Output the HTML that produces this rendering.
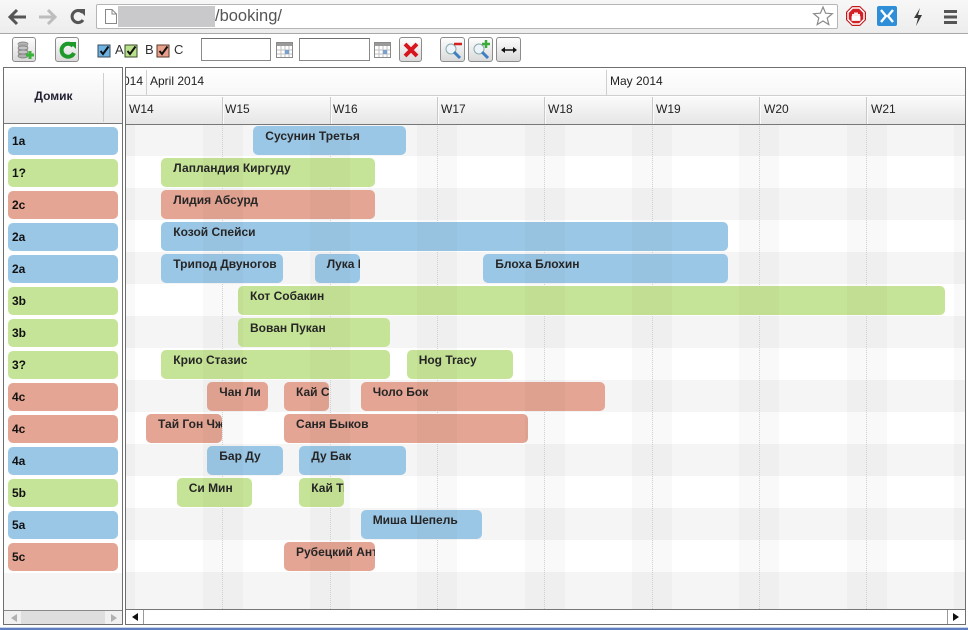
<!DOCTYPE html>
<html><head><meta charset="utf-8">
<style>
*{margin:0;padding:0;box-sizing:border-box}
html,body{width:968px;height:630px;overflow:hidden}
body{background:#fff;font-family:"Liberation Sans",Arial,"Noto Sans CJK SC",sans-serif;position:relative}
.a{position:absolute}
.bar{position:absolute;height:29px;border-radius:5px;overflow:hidden;white-space:nowrap;font-weight:bold;font-size:12px;line-height:14px;padding:3px 0 0 12px;color:#262626}
.b{background:#9bc7e6}.g{background:#c6e497}.r{background:#e4a594}
.pill{position:absolute;left:8px;width:110px;height:28px;border-radius:5px;font-weight:bold;font-size:12px;line-height:28px;padding-left:4px;color:#111}
.wk{position:absolute;top:96px;height:27px;font-size:12px;line-height:27px;color:#222}
.wsep{position:absolute;top:97px;width:1px;height:27px;background:#c9c9c9;box-shadow:1px 0 0 #fbfbfb}
.row{position:absolute;left:0;width:965px;height:32px}
.we{position:absolute;top:124px;height:485px;width:40px;background:rgba(0,0,0,0.024);z-index:5}
.dl{position:absolute;top:124px;height:485px;width:0;border-left:1px dotted #d6d6d6}
.tb{position:absolute;top:37px;width:24px;height:25px;border:1px solid #8c8c8c;border-radius:3px;background:linear-gradient(#fdfdfd,#dadada)}
.tb svg{position:absolute;left:0;top:0}
.inp{position:absolute;top:38px;height:23px;border:1px solid #8a8a8a;border-top-color:#6f6f6f;background:#fff}
.lbl{position:absolute;top:42px;font-size:13px;line-height:16px;color:#333}
</style></head><body>

<!-- Browser chrome -->
<div class="a" style="left:0;top:0;width:968px;height:34px;background:linear-gradient(#f7f7f7,#ededed);border-bottom:1px solid #a8a8a8"></div>
<svg class="a" style="left:6px;top:6px" width="90" height="22" viewBox="0 0 90 22">
  <path d="M5 11 H20" stroke="#555" stroke-width="3"/>
  <path d="M11 4 L4 11 L11 18" stroke="#555" stroke-width="3" fill="none"/>
  <path d="M33 11 H48" stroke="#bdbdbd" stroke-width="3"/>
  <path d="M42 4 L49 11 L42 18" stroke="#bdbdbd" stroke-width="3" fill="none"/>
  <path d="M76.5 6.5 A6 6 0 1 0 77 14" stroke="#555" stroke-width="3" fill="none"/>
  <path d="M72 3 L79 3 L79 10 Z" fill="#555"/>
</svg>
<div class="a" style="left:96px;top:4px;width:742px;height:25px;background:#fff;border:1px solid #b5b5b5;border-radius:2px"></div>
<svg class="a" style="left:104px;top:8px" width="14" height="17"><path d="M1.5 1.5 H8 L12.5 6 V15.5 H1.5 Z" fill="#fff" stroke="#888"/><path d="M8 1.5 V6 H12.5" fill="none" stroke="#888"/></svg>
<div class="a" style="left:118px;top:6px;width:97px;height:21px;background:#c9c9cc"></div>
<div class="a" style="left:215px;top:5px;font-size:16.5px;line-height:22px;color:#555">/booking/</div>
<svg class="a" style="left:812px;top:5px" width="22" height="22"><path d="M11 2 L13.6 8.2 L20.3 8.7 L15.2 13 L16.8 19.6 L11 16 L5.2 19.6 L6.8 13 L1.7 8.7 L8.4 8.2 Z" fill="#fff" stroke="#8a8a8a" stroke-width="1.2"/></svg>
<svg class="a" style="left:845px;top:5px" width="22" height="22"><path d="M7 1 H15 L21 7 V15 L15 21 H7 L1 15 V7 Z" fill="#c41a1f"/><path d="M7.6 3 H14.4 L19 7.6 V14.4 L14.4 19 H7.6 L3 14.4 V7.6 Z" fill="#d32026" stroke="#fff" stroke-width="1.5"/><path d="M8 15 V9 M10 15 V7.5 M12 15 V7.5 M14 15 V9 M7.5 12 H14.5 V15 H7.5Z" stroke="#fff" stroke-width="1.8" fill="#fff"/></svg>
<svg class="a" style="left:877px;top:6px" width="20" height="20"><rect x="0" y="0" width="20" height="20" rx="2" fill="#2e8fd8"/><path d="M4 4 L9 10 L4 16 M16 4 L11 10 L16 16" stroke="#fff" stroke-width="2.4" fill="none"/></svg>
<svg class="a" style="left:912px;top:7px" width="12" height="20"><path d="M8 1 L2 11 H6 L4 19 L10 8 H6 Z" fill="#3a3a3a"/></svg>
<svg class="a" style="left:943px;top:8px" width="16" height="17"><rect x="1" y="2" width="13" height="3" fill="#555"/><rect x="1" y="7.5" width="13" height="3" fill="#555"/><rect x="1" y="13" width="13" height="3" fill="#555"/></svg>

<!-- Toolbar -->
<div class="tb" style="left:12px"><svg width="24" height="25"><ellipse cx="10" cy="6" rx="5" ry="2" fill="#b5b5b5" stroke="#7a7a7a" stroke-width=".7"/><rect x="5" y="6" width="10" height="12" fill="#a9a9a9"/><ellipse cx="10" cy="10" rx="5" ry="2" fill="#c5c5c5" stroke="#7a7a7a" stroke-width=".7"/><ellipse cx="10" cy="14" rx="5" ry="2" fill="#c5c5c5" stroke="#7a7a7a" stroke-width=".7"/><ellipse cx="10" cy="18" rx="5" ry="2" fill="#b0b0b0" stroke="#7a7a7a" stroke-width=".7"/><path d="M17 13 V21 M13 17 H21" stroke="#3bb33b" stroke-width="3"/></svg></div>
<div class="tb" style="left:55px"><svg width="24" height="25"><path d="M17 8 A6.5 6.5 0 1 0 18 15" stroke="#1f9a2a" stroke-width="4" fill="none"/><path d="M13 4 L20 4 L20 11 Z" fill="#1f9a2a"/></svg></div>

<svg class="a" style="left:97px;top:44px" width="14" height="14"><rect x="1" y="1" width="12" height="12" fill="#6cb3e3" stroke="#3a4a5a"/><path d="M3.5 7 L6 10 L11.5 2.5" stroke="#111" stroke-width="2" fill="none"/></svg>
<div class="lbl" style="left:115px">A</div>
<svg class="a" style="left:124px;top:44px" width="14" height="14"><rect x="1" y="1" width="12" height="12" fill="#b9e08a" stroke="#3a4a2a"/><path d="M3.5 7 L6 10 L11.5 2.5" stroke="#111" stroke-width="2" fill="none"/></svg>
<div class="lbl" style="left:145px">B</div>
<svg class="a" style="left:156px;top:44px" width="14" height="14"><rect x="1" y="1" width="12" height="12" fill="#e9a08b" stroke="#5a3a2a"/><path d="M3.5 7 L6 10 L11.5 2.5" stroke="#111" stroke-width="2" fill="none"/></svg>
<div class="lbl" style="left:174px">C</div>

<div class="inp" style="left:201px;width:70px"></div>
<svg class="a" style="left:276px;top:42px" width="17" height="16"><rect x=".5" y=".5" width="16" height="15" fill="#fff" stroke="#8a8a8a"/><rect x="1" y="1" width="15" height="3" fill="#9a9a9a"/><path d="M1 8 H16 M1 12 H16 M5 4 V15 M9 4 V15 M13 4 V15" stroke="#c0c0c0"/><rect x="9" y="8" width="4" height="4" fill="#7aa0d0"/></svg>
<div class="inp" style="left:299px;width:71px"></div>
<svg class="a" style="left:374px;top:42px" width="17" height="16"><rect x=".5" y=".5" width="16" height="15" fill="#fff" stroke="#8a8a8a"/><rect x="1" y="1" width="15" height="3" fill="#9a9a9a"/><path d="M1 8 H16 M1 12 H16 M5 4 V15 M9 4 V15 M13 4 V15" stroke="#c0c0c0"/><rect x="9" y="8" width="4" height="4" fill="#7aa0d0"/></svg>
<div class="tb" style="left:399px;width:23px"><svg width="23" height="25"><path d="M5 6 L17 18 M17 6 L5 18" stroke="#d8141c" stroke-width="4"/></svg></div>
<div class="tb" style="left:440px;width:25px"><svg width="25" height="25"><circle cx="10" cy="11" r="5" fill="#eef4fb" stroke="#8aa" stroke-width="1"/><path d="M13 14 L19 20" stroke="#3d7fc0" stroke-width="3"/><path d="M13 6 H21" stroke="#d42020" stroke-width="2.5"/></svg></div>
<div class="tb" style="left:468px;width:25px"><svg width="25" height="25"><circle cx="10" cy="11" r="5" fill="#eef4fb" stroke="#8aa" stroke-width="1"/><path d="M13 14 L19 20" stroke="#3d7fc0" stroke-width="3"/><path d="M13 6 H21 M17 2 V10" stroke="#3aaa3a" stroke-width="2.5"/></svg></div>
<div class="tb" style="left:496px;width:25px"><svg width="25" height="25"><path d="M5 12 H19" stroke="#111" stroke-width="1.5"/><path d="M4 12 L8 9 V15 Z M20 12 L16 9 V15 Z" fill="#111"/></svg></div>

<!-- Left panel -->
<div class="a" style="left:3px;top:67px;width:120px;height:558px;border:1px solid #6f6f6f;background:#fff;overflow:hidden">
  <div class="a" style="left:0;top:0;width:118px;height:56px;background:linear-gradient(#ffffff,#ececec);border-bottom:1px solid #777"></div>
  <div class="a" style="left:99px;top:5px;width:1px;height:49px;background:#cfcfcf"></div>
  <div class="a" style="left:0;top:1px;width:99px;height:55px;line-height:55px;text-align:center;font-weight:bold;font-size:12px;color:#223">Домик</div>
  <div class="a" style="left:0;top:505px;width:118px;height:37px;background:#f5f5f5"></div>
  <div class="a" style="left:0;top:542px;width:118px;height:14px;background:#f0f0f0;border-top:1px solid #8a8a8a"></div>
  <div class="a" style="left:17px;top:543px;width:84px;height:13px;background:#dedede"></div>
  <svg class="a" style="left:5px;top:545px" width="10" height="10"><path d="M8 1 L2 5 L8 9 Z" fill="#b0b0b0"/></svg>
  <svg class="a" style="left:105px;top:545px" width="10" height="10"><path d="M2 1 L8 5 L2 9 Z" fill="#b0b0b0"/></svg>
</div>
<div class="pill b" style="top:127px">1a</div>
<div class="pill g" style="top:159px">1?</div>
<div class="pill r" style="top:191px">2c</div>
<div class="pill b" style="top:223px">2a</div>
<div class="pill b" style="top:255px">2a</div>
<div class="pill g" style="top:287px">3b</div>
<div class="pill g" style="top:319px">3b</div>
<div class="pill g" style="top:351px">3?</div>
<div class="pill r" style="top:383px">4c</div>
<div class="pill r" style="top:415px">4c</div>
<div class="pill b" style="top:447px">4a</div>
<div class="pill g" style="top:479px">5b</div>
<div class="pill b" style="top:511px">5a</div>
<div class="pill r" style="top:543px">5c</div>

<!-- Main panel -->
<div class="a" style="left:125px;top:67px;width:841px;height:558px;border:1px solid #6f6f6f;background:#fff"></div>
<!-- header -->
<div class="a" style="left:126px;top:68px;width:839px;height:28px;background:linear-gradient(#ffffff,#f7f7f7);border-bottom:1px solid #cfcfcf"></div>
<div class="a" style="left:126px;top:97px;width:839px;height:28px;background:linear-gradient(#fafafa,#e6e6e6);border-bottom:1px solid #777"></div>
<div class="a" style="left:126px;top:68px;width:20px;height:26px;overflow:hidden;font-size:12px;line-height:26px;color:#222"><span style="position:absolute;right:3px;white-space:nowrap">March 2014</span></div>
<div class="a" style="left:146px;top:70px;width:1px;height:25px;background:#d0d0d0"></div>
<div class="a" style="left:150px;top:68px;font-size:12px;line-height:26px;color:#222">April 2014</div>
<div class="a" style="left:606px;top:70px;width:1px;height:25px;background:#d0d0d0"></div>
<div class="a" style="left:610px;top:68px;font-size:12px;line-height:26px;color:#222">May 2014</div>
<div class="wsep" style="left:222px"></div><div class="wsep" style="left:330px"></div><div class="wsep" style="left:437px"></div><div class="wsep" style="left:544px"></div><div class="wsep" style="left:652px"></div><div class="wsep" style="left:759px"></div><div class="wsep" style="left:866px"></div>
<div class="wk" style="left:129px">W14</div>
<div class="wk" style="left:225px">W15</div>
<div class="wk" style="left:333px">W16</div>
<div class="wk" style="left:441px">W17</div>
<div class="wk" style="left:548px">W18</div>
<div class="wk" style="left:656px">W19</div>
<div class="wk" style="left:764px">W20</div>
<div class="wk" style="left:871px">W21</div>

<!-- body -->
<div class="a" style="left:126px;top:125px;width:839px;height:484px;overflow:hidden">
 <div class="a" style="left:-126px;top:-125px;width:965px;height:609px">
  <div class="row" style="top:124px;background:#f5f5f5"></div>
  <div class="row" style="top:188px;background:#f5f5f5"></div>
  <div class="row" style="top:252px;background:#f5f5f5"></div>
  <div class="row" style="top:316px;background:#f5f5f5"></div>
  <div class="row" style="top:380px;background:#f5f5f5"></div>
  <div class="row" style="top:444px;background:#f5f5f5"></div>
  <div class="row" style="top:508px;background:#f5f5f5"></div>
  <div class="row" style="top:572px;background:#f5f5f5;height:37px"></div>

  <div class="dl" style="left:115px"></div><div class="dl" style="left:222px"></div><div class="dl" style="left:330px"></div><div class="dl" style="left:437px"></div><div class="dl" style="left:544px"></div><div class="dl" style="left:652px"></div><div class="dl" style="left:759px"></div><div class="dl" style="left:866px"></div>

  <div class="bar b" style="left:253.3px;top:126px;width:152.3px">Сусунин Третья</div>
  <div class="bar g" style="left:161.3px;top:158px;width:213.7px">Лапландия Киргуду</div>
  <div class="bar r" style="left:161.3px;top:190px;width:213.7px">Лидия Абсурд</div>
  <div class="bar b" style="left:161.3px;top:222px;width:566.3px">Козой Спейси</div>
  <div class="bar b" style="left:161.3px;top:254px;width:121.7px">Трипод Двуногов</div>
  <div class="bar b" style="left:314.7px;top:254px;width:45px">Лука Бобров</div>
  <div class="bar b" style="left:483.3px;top:254px;width:244.3px">Блоха Блохин</div>
  <div class="bar g" style="left:238px;top:286px;width:707px">Кот Собакин</div>
  <div class="bar g" style="left:238px;top:318px;width:152.3px">Вован Пукан</div>
  <div class="bar g" style="left:161.3px;top:350px;width:229px">Крио Стазис</div>
  <div class="bar g" style="left:406.7px;top:350px;width:106.3px">Hog Tracy</div>
  <div class="bar r" style="left:207.3px;top:382px;width:60.3px">Чан Ли</div>
  <div class="bar r" style="left:284px;top:382px;width:45px">Кай Сон</div>
  <div class="bar r" style="left:360.7px;top:382px;width:244.3px">Чоло Бок</div>
  <div class="bar r" style="left:146px;top:414px;width:75.7px">Тай Гон Чжи</div>
  <div class="bar r" style="left:284px;top:414px;width:244.3px">Саня Быков</div>
  <div class="bar b" style="left:207.3px;top:446px;width:75.7px">Бар Ду</div>
  <div class="bar b" style="left:299.3px;top:446px;width:106.3px">Ду Бак</div>
  <div class="bar g" style="left:176.7px;top:478px;width:75.7px">Си Мин</div>
  <div class="bar g" style="left:299.3px;top:478px;width:45px">Кай Тин</div>
  <div class="bar b" style="left:360.7px;top:510px;width:121.7px">Миша Шепель</div>
  <div class="bar r" style="left:284px;top:542px;width:91px">Рубецкий Антон</div>

  <div class="we" style="left:95.3px"></div><div class="we" style="left:202.7px"></div><div class="we" style="left:310px"></div><div class="we" style="left:417.3px"></div><div class="we" style="left:524.7px"></div><div class="we" style="left:632px"></div><div class="we" style="left:739.3px"></div><div class="we" style="left:846.7px"></div><div class="we" style="left:925px;width:40px;left:954px;width:11px"></div>
 </div>
</div>

<!-- main scrollbar -->
<div class="a" style="left:126px;top:609px;width:839px;height:15px;background:#fff;border-top:1px solid #777"></div>
<div class="a" style="left:143px;top:610px;width:1px;height:14px;background:#999"></div>
<div class="a" style="left:947px;top:610px;width:1px;height:14px;background:#999"></div>
<svg class="a" style="left:130px;top:612px" width="10" height="10"><path d="M8 1 L2 5 L8 9 Z" fill="#111"/></svg>
<svg class="a" style="left:951px;top:612px" width="10" height="10"><path d="M2 1 L8 5 L2 9 Z" fill="#111"/></svg>

<!-- bottom taskbar strip -->
<div class="a" style="left:0;top:627px;width:968px;height:1px;background:#c8d4ea"></div>
<div class="a" style="left:0;top:628px;width:968px;height:2px;background:#5d7fc0"></div>
</body></html>
